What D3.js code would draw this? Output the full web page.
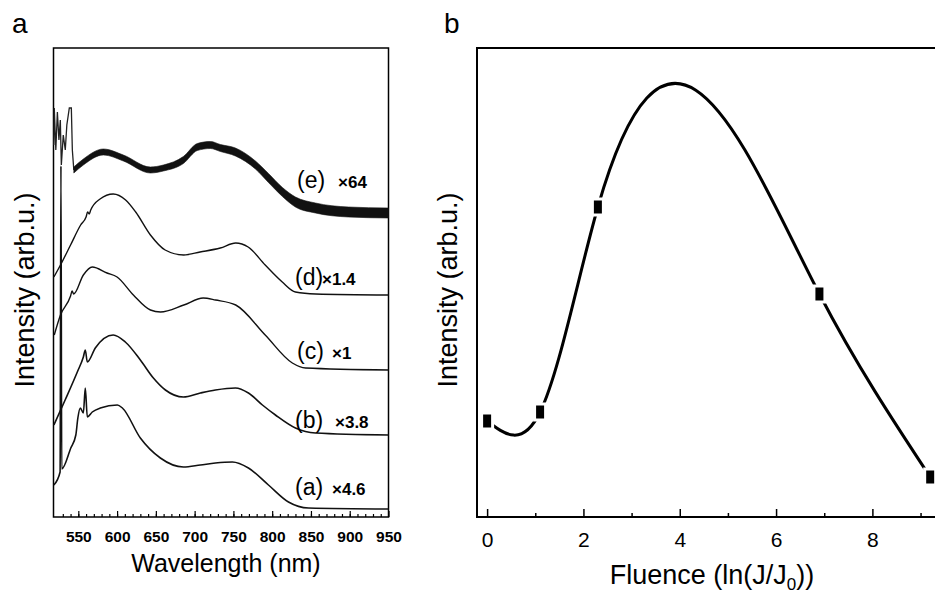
<!DOCTYPE html>
<html>
<head>
<meta charset="utf-8">
<script src="https://cdn.jsdelivr.net/npm/d3@7"></script>
<style>
  body { margin: 0; background: #fff; }
  svg { display: block; }
  text { font-family: "Liberation Sans", Arial, sans-serif; fill: #000; }
</style>
</head>
<body>
<svg id="chart" width="935" height="594"></svg>
<script>
// ---- panel a: PL spectra, [wavelength (nm), intensity (arb.u.)]
const specA = [[518.5, 32], [526.5, 45], [527.6, 351], [528.6, 48], [540.3, 69], [546.8, 82], [549.4, 99],
  [552.6, 109], [556.5, 104], [559, 129], [561.6, 100], [568, 105], [578.4, 109], [600.3, 112], [606.8, 109],
  [630, 79], [655.8, 59], [685.5, 50], [707.4, 52], [726.8, 54], [748.7, 55], [769.4, 49], [795.2, 32],
  [821, 15], [846.8, 9], [950, 8]];
const specB = [[518.5, 92], [533, 117], [548.7, 145], [556.5, 160], [559, 167], [561.6, 155], [571.9, 169],
  [595, 182], [610.6, 175], [630, 157], [646.8, 139], [662.3, 127], [685.5, 120], [707.4, 124], [726.8, 127],
  [752.6, 129], [769.4, 124], [787.4, 112], [804.2, 102], [830, 89], [855.8, 84], [950, 82]];
const specC = [[519, 182], [527, 202], [540, 221], [542, 226], [544, 223], [556.5, 242], [568, 250], [587, 244],
  [600, 240], [621, 222], [643, 207], [656, 205], [686, 212], [711, 219], [727, 217], [753, 212], [791, 182],
  [826, 154], [843, 149], [950, 147]];
const specD = [[518.5, 240], [527, 252], [540, 272], [553, 292], [560, 300], [562, 305], [564, 303], [566, 307],
  [578, 318], [595, 323], [611, 317], [624, 305], [643, 282], [662, 267], [686, 262], [707, 265], [733, 269],
  [753, 274], [769, 270], [791, 252], [813, 235], [830, 225], [856, 223], [950, 222]];
// (e) is very noisy: a spiky start, then a band (centre and half-width of the noise)
const specESpikes = [[518.4, 372], [519, 409], [521, 367], [523, 405], [525, 377], [526.8, 397], [528.1, 352],
  [530.6, 382], [533.2, 367], [535.2, 392], [538.4, 409], [541, 409], [542.3, 367], [544.2, 347]];
const specEWl = [544.2, 556.5, 582.3, 608.1, 642.9, 659.7, 685.5, 703.5, 720.3, 733.2, 752.6, 778.4, 795.2,
  813.2, 830, 855.8, 898.4, 950];
const specEMid = [347, 355, 365, 359, 347, 349, 357, 370, 372, 369, 365, 352, 339, 325, 315, 309, 305, 304];
const specENoise = [3, 3, 3, 3, 3, 3, 3.5, 3.5, 3.5, 3.5, 4, 4, 4.5, 4.5, 5, 5, 5, 5];

const curveLabels = ["(a)", "(b)", "(c)", "(d)", "(e)"];
const curveFactors = ["\u00d74.6", "\u00d73.8", "\u00d71", "\u00d71.4", "\u00d764"];
const wlTicks = [550, 600, 650, 700, 750, 800, 850, 900, 950];

// ---- panel b: intensity vs fluence
const fluence = [0, 1.1, 2.3, 6.9, 9.2];
const fluenceInt = [96, 105, 310, 223, 40];
const fluTicks = [0, 2, 4, 6, 8];

const svg = d3.select("#chart");

// natural cubic spline y(x), drawn as exact bezier segments
function curveNaturalX(context) {
  let xs, ys;
  return {
    areaStart() {}, areaEnd() {},
    lineStart() { xs = []; ys = []; },
    point(x, y) { xs.push(+x); ys.push(+y); },
    lineEnd() {
      const n = xs.length;
      const h = [], m = new Array(n).fill(0);
      for (let i = 0; i < n - 1; i++) h[i] = xs[i + 1] - xs[i];
      const a = [], b = [], c = [], r = [];
      for (let i = 1; i < n - 1; i++) {
        a.push(h[i - 1]); b.push(2 * (h[i - 1] + h[i])); c.push(h[i]);
        r.push(6 * ((ys[i + 1] - ys[i]) / h[i] - (ys[i] - ys[i - 1]) / h[i - 1]));
      }
      const k = r.length;
      for (let i = 1; i < k; i++) {
        const w = a[i] / b[i - 1];
        b[i] -= w * c[i - 1]; r[i] -= w * r[i - 1];
      }
      if (k > 0) {
        const sol = new Array(k);
        sol[k - 1] = r[k - 1] / b[k - 1];
        for (let i = k - 2; i >= 0; i--) sol[i] = (r[i] - c[i] * sol[i + 1]) / b[i];
        for (let i = 0; i < k; i++) m[i + 1] = sol[i];
      }
      const s = [];
      for (let i = 0; i < n - 1; i++) s[i] = (ys[i + 1] - ys[i]) / h[i] - h[i] * (2 * m[i] + m[i + 1]) / 6;
      s[n - 1] = (ys[n - 1] - ys[n - 2]) / h[n - 2] + h[n - 2] * (m[n - 2] + 2 * m[n - 1]) / 6;
      context.moveTo(xs[0], ys[0]);
      for (let i = 0; i < n - 1; i++) {
        context.bezierCurveTo(xs[i] + h[i] / 3, ys[i] + s[i] * h[i] / 3,
          xs[i + 1] - h[i] / 3, ys[i + 1] - s[i + 1] * h[i] / 3, xs[i + 1], ys[i + 1]);
      }
    }
  };
}

// ================= panel a =================
const xA = d3.scaleLinear().domain([518, 950]).range([53.5, 388.5]);
const yA = d3.scaleLinear().domain([0, 469]).range([517, 48]);

const gA = svg.append("g");

gA.append("rect")
  .attr("x", 53.5).attr("y", 48).attr("width", 335).attr("height", 469)
  .attr("fill", "none").attr("stroke", "#000").attr("stroke-width", 1.5);

// minor + major ticks, pointing inwards
const minorA = gA.append("g").attr("transform", "translate(0,517)")
  .call(d3.axisBottom(xA).tickValues(d3.range(530, 950, 10)).tickSize(-3).tickFormat(""));
const majorA = gA.append("g").attr("transform", "translate(0,517)")
  .call(d3.axisBottom(xA).tickValues(wlTicks).tickSize(-6).tickPadding(14));
[minorA, majorA].forEach(g => {
  g.select(".domain").remove();
  g.selectAll("line").attr("stroke", "#000").attr("stroke-width", 1.2);
});
majorA.selectAll("text")
  .style("font-family", "Liberation Sans, Arial, sans-serif")
  .style("font-size", "15.5px").style("font-weight", "bold");

const lineA = d3.line().x(d => xA(d[0])).y(d => yA(d[1])).curve(d3.curveMonotoneX);

[specA, specB, specC, specD].forEach((spec, i) => {
  gA.append("path")
    .attr("d", lineA(spec))
    .attr("fill", "none").attr("stroke", "#111")
    .attr("stroke-width", i < 2 ? 1.6 : 1.4);
});

gA.append("path")
  .attr("d", d3.line().x(d => xA(d[0])).y(d => yA(d[1]))(specESpikes))
  .attr("fill", "none").attr("stroke", "#222").attr("stroke-width", 1.3);

const bandE = d3.area()
  .x((d, i) => xA(specEWl[i]))
  .y0((d, i) => yA(specEMid[i] - specENoise[i]))
  .y1((d, i) => yA(specEMid[i] + specENoise[i]))
  .curve(d3.curveMonotoneX);
gA.append("path")
  .attr("d", bandE(specEWl))
  .attr("fill", "#111").attr("stroke", "#111").attr("stroke-width", 0.6);

// curve labels (a)..(e) with scale factors
const labelPos = [[295, 495, 332], [295, 428, 335], [297, 359, 332], [295, 285, 322], [297, 188, 338]];
curveLabels.forEach((t, i) => {
  const [lx, ly, fx] = labelPos[i];
  gA.append("text").attr("x", lx).attr("y", ly)
    .style("font-size", "23px").text(t);
  gA.append("text").attr("x", fx).attr("y", ly)
    .style("font-size", "17px").style("font-weight", "bold").text(curveFactors[i]);
});

gA.append("text")
  .attr("x", 226).attr("y", 572).attr("text-anchor", "middle")
  .style("font-size", "25px").text("Wavelength (nm)");

gA.append("text")
  .attr("transform", "translate(34,290) rotate(-90)").attr("text-anchor", "middle")
  .style("font-size", "27px").text("Intensity (arb.u.)");

svg.append("text").attr("x", 12).attr("y", 33).style("font-size", "28px").text("a");

// ================= panel b =================
const xB = d3.scaleLinear().domain([-0.21, 9.3]).range([477, 935]);
const yB = d3.scaleLinear().domain([0, 469]).range([517, 48]);

const gB = svg.append("g");

gB.append("path")
  .attr("d", "M935,48H477V517H935")
  .attr("fill", "none").attr("stroke", "#000").attr("stroke-width", 2);

const minorB = gB.append("g").attr("transform", "translate(0,517)")
  .call(d3.axisBottom(xB).tickValues([1, 3, 5, 7, 9]).tickSize(-4).tickFormat(""));
const majorB = gB.append("g").attr("transform", "translate(0,517)")
  .call(d3.axisBottom(xB).tickValues(fluTicks).tickSize(-8).tickPadding(15));
[minorB, majorB].forEach(g => {
  g.select(".domain").remove();
  g.selectAll("line").attr("stroke", "#000").attr("stroke-width", 1.5);
});
majorB.selectAll("text")
  .style("font-family", "Liberation Sans, Arial, sans-serif")
  .style("font-size", "21px");

const pts = fluence.map((f, i) => [f, fluenceInt[i]]);

gB.append("path")
  .attr("d", d3.line().x(d => xB(d[0])).y(d => yB(d[1])).curve(curveNaturalX)(pts))
  .attr("fill", "none").attr("stroke", "#000").attr("stroke-width", 3);

// square symbols with a small white gap round them
gB.selectAll("rect.gap").data(pts).enter().append("rect")
  .attr("class", "gap")
  .attr("x", d => xB(d[0]) - 7).attr("y", d => yB(d[1]) - 9.5)
  .attr("width", 14).attr("height", 19).attr("fill", "#fff");
gB.selectAll("rect.sym").data(pts).enter().append("rect")
  .attr("class", "sym")
  .attr("x", d => xB(d[0]) - 4).attr("y", d => yB(d[1]) - 6.5)
  .attr("width", 8).attr("height", 13).attr("fill", "#000");

const fluTitle = gB.append("text")
  .attr("x", 712).attr("y", 584).attr("text-anchor", "middle")
  .style("font-size", "27px");
fluTitle.append("tspan").text("Fluence (ln(J/J");
fluTitle.append("tspan").attr("dy", 6).style("font-size", "17px").text("0");
fluTitle.append("tspan").attr("dy", -6).text("))");

gB.append("text")
  .attr("transform", "translate(457,290) rotate(-90)").attr("text-anchor", "middle")
  .style("font-size", "27px").text("Intensity (arb.u.)");

svg.append("text").attr("x", 444).attr("y", 33).style("font-size", "28px").text("b");
</script>
</body>
</html>
